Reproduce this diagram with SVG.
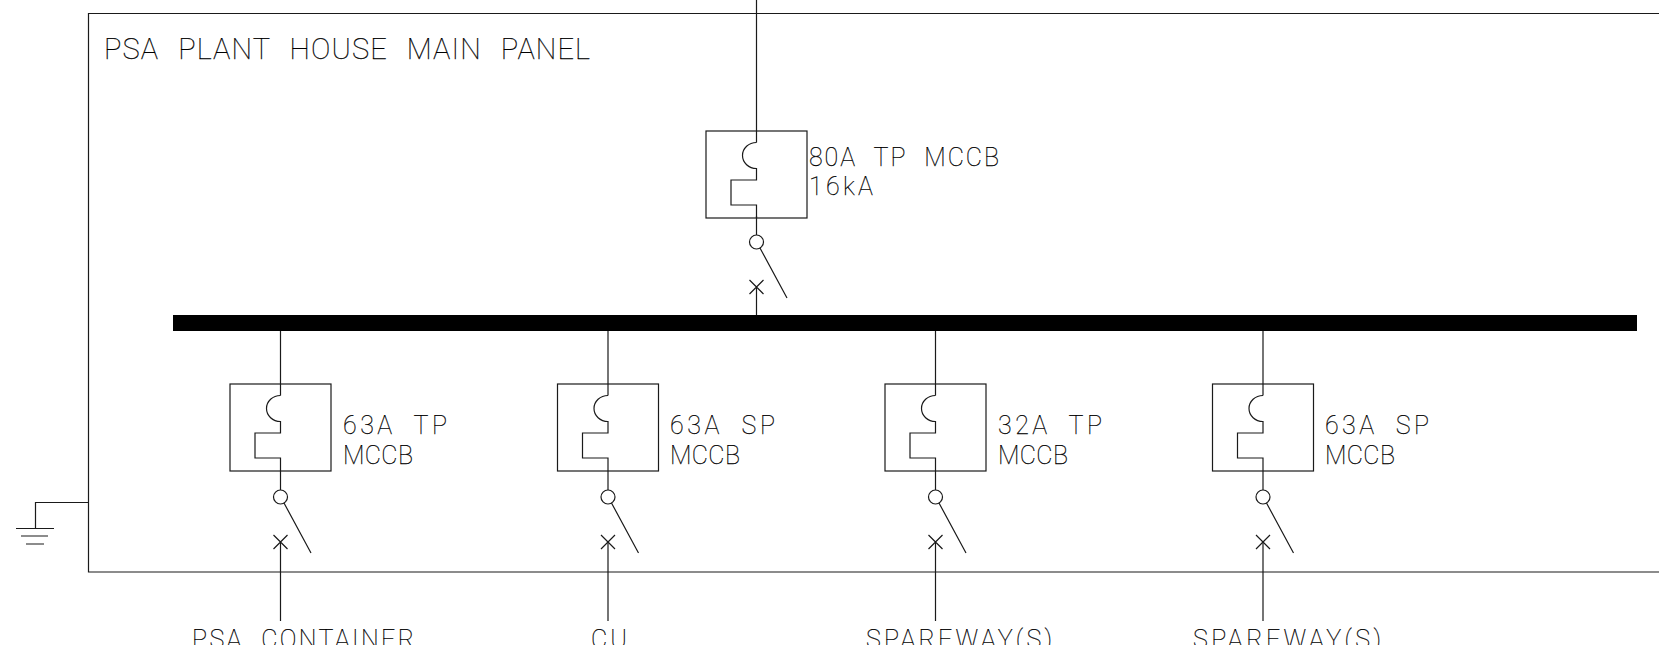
<svg xmlns="http://www.w3.org/2000/svg" width="1659" height="645" viewBox="0 0 1659 645">
<style>
.l{fill:none;stroke:#1a1a1a;stroke-width:1.2}
.t{font-family:Roboto,"Liberation Sans",sans-serif;font-weight:100;font-size:25px;fill:#000;stroke:#000;stroke-width:.25;word-spacing:9px}
.big{font-size:29px;word-spacing:11px}
</style>
<defs>
<g id="breaker">
<rect class="l" x="-50.500" y="-87" width="101" height="87"/>
<path class="l" d="M0-75.500A14 13 0 0 0 0-49.500V-38H-25.500V-13H0V0"/>
</g>
<g id="switch">
<path class="l" d="M0-7V-26"/>
<circle class="l" cx="0" cy="0" r="7"/>
<path class="l" d="M3.500 6L30.500 56M-7 38L7 52M7 38L-7 52"/>
</g>
</defs>
<rect width="1659" height="645" fill="#fff"/>
<g id="panel">
<path class="l" d="M1659 13.500H88.500V572H1659"/>
<text class="t big" x="104" y="59" textLength="486" lengthAdjust="spacing">PSA PLANT HOUSE MAIN PANEL</text>
</g>
<g id="busbar"><rect x="173" y="315" width="1464" height="16" fill="#000"/></g>
<g id="earth"><path class="l" d="M88.500 502.500H35.500V528.500M16 528.500H54M21 536H48M26 544H44"/></g>
<g id="connectors">
<path class="l" d="M756.500 0V142.500M756.500 287V315"/>
<path class="l" d="M280.500 331V395.500M280.500 542V621"/>
<path class="l" d="M608 331V395.500M608 542V621"/>
<path class="l" d="M935.500 331V395.500M935.500 542V621"/>
<path class="l" d="M1263 331V395.500M1263 542V621"/>
</g>
<g id="main-breaker">
<use href="#breaker" transform="translate(756.500 218)"/>
<use href="#switch" transform="translate(756.500 242)"/>
<text class="t" x="809" y="166" textLength="190" lengthAdjust="spacing">80A TP MCCB</text>
<text class="t" x="809" y="195" textLength="64" lengthAdjust="spacing">16kA</text>
</g>
<g id="feeder-1">
<use href="#breaker" transform="translate(280.500 471)"/>
<use href="#switch" transform="translate(280.500 497)"/>
<text class="t" x="343" y="433.500" textLength="104" lengthAdjust="spacing">63A TP</text>
<text class="t" x="343" y="464" textLength="70" lengthAdjust="spacing">MCCB</text>
<text class="t" x="192" y="648" textLength="222" lengthAdjust="spacing">PSA CONTAINER</text>
</g>
<g id="feeder-2">
<use href="#breaker" transform="translate(608 471)"/>
<use href="#switch" transform="translate(608 497)"/>
<text class="t" x="670" y="433.500" textLength="105" lengthAdjust="spacing">63A SP</text>
<text class="t" x="670" y="464" textLength="70" lengthAdjust="spacing">MCCB</text>
<text class="t" x="591" y="648" textLength="36" lengthAdjust="spacing">CU</text>
</g>
<g id="feeder-3">
<use href="#breaker" transform="translate(935.500 471)"/>
<use href="#switch" transform="translate(935.500 497)"/>
<text class="t" x="998" y="433.500" textLength="104" lengthAdjust="spacing">32A TP</text>
<text class="t" x="998" y="464" textLength="70" lengthAdjust="spacing">MCCB</text>
<text class="t" x="866" y="648" textLength="186" lengthAdjust="spacing">SPAREWAY(S)</text>
</g>
<g id="feeder-4">
<use href="#breaker" transform="translate(1263 471)"/>
<use href="#switch" transform="translate(1263 497)"/>
<text class="t" x="1325" y="433.500" textLength="104" lengthAdjust="spacing">63A SP</text>
<text class="t" x="1325" y="464" textLength="70" lengthAdjust="spacing">MCCB</text>
<text class="t" x="1193" y="648" textLength="188" lengthAdjust="spacing">SPAREWAY(S)</text>
</g>
</svg>
